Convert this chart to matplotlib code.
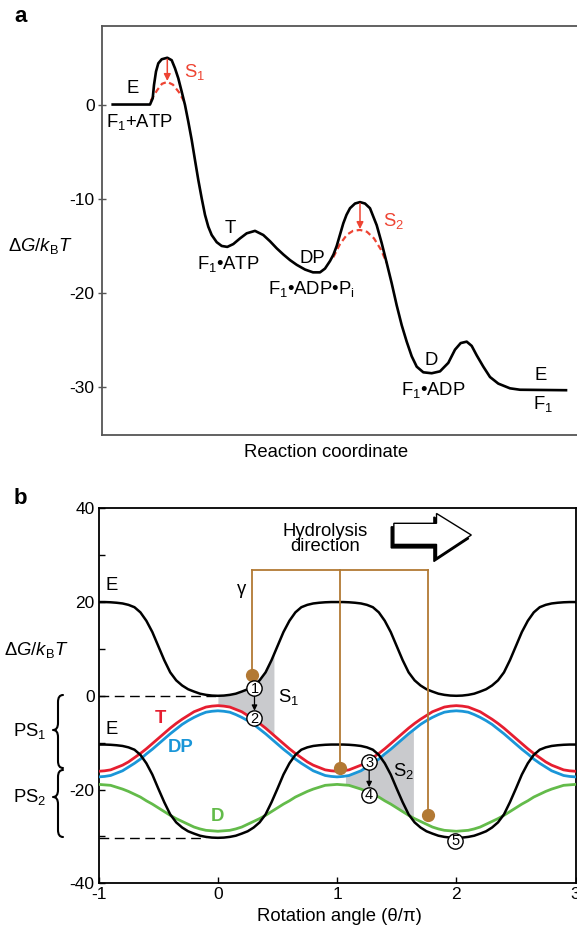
import numpy as np
import matplotlib
matplotlib.use("Agg")
import matplotlib.pyplot as plt
from matplotlib.patches import Polygon, PathPatch
from matplotlib.path import Path

plt.rcParams['font.family'] = ['Liberation Sans', 'DejaVu Sans']
plt.rcParams['mathtext.fontset'] = 'custom'
plt.rcParams['mathtext.rm'] = 'Liberation Sans'
plt.rcParams['mathtext.it'] = 'Liberation Sans:italic'
plt.rcParams['mathtext.bf'] = 'Liberation Sans:bold'
plt.rcParams['axes.unicode_minus'] = False

# ---------------- Panel a data ----------------
a_coord = [10.4, 47.7, 50.4, 51.7, 53.7, 56.0, 59.4, 65.0, 69.4, 72.7, 76.0, 79.4,
           82.7, 86.0, 89.4, 92.7, 96.0, 99.4, 102.7, 106.0, 109.4, 114.4, 119.4,
           125.0, 131.0, 137.7, 144.4, 152.7, 161.0, 167.7, 174.4, 181.0, 187.7,
           194.4, 202.7, 210.7, 217.7, 222.7, 227.7, 231.2, 234.4, 237.7, 241.0,
           244.2, 247.7, 252.7, 257.7, 262.7, 267.7, 274.4, 279.4, 284.4, 289.4,
           294.4, 299.4, 304.4, 309.4, 314.4, 321.0, 329.4, 337.7, 346.0, 352.7,
           358.4, 364.4, 369.4, 374.4, 381.0, 387.7, 396.0, 407.7, 417.7, 463.7]
a_energy = [0, 0, 0.66, 2.07, 3.5, 4.37, 4.8, 4.96, 4.7, 3.84, 2.78, 1.36,
            -0.05, -1.82, -3.76, -5.9, -8.0, -9.95, -11.7, -12.96, -13.84, -14.6, -15.0,
            -15.1, -14.8, -14.2, -13.66, -13.4, -13.84, -14.5, -15.25, -15.9, -16.5,
            -17.0, -17.5, -17.8, -17.8, -17.4, -16.6, -15.9, -15.0, -13.8, -12.6,
            -11.7, -11.0, -10.5, -10.35, -10.5, -11.0, -12.8, -14.7, -16.8, -18.96,
            -21.3, -23.4, -25.15, -26.7, -27.8, -28.4, -28.5, -28.3, -27.4, -26.0,
            -25.3, -25.15, -25.6, -26.6, -27.8, -28.9, -29.6, -30.1, -30.25, -30.3]
s1_coord = [48.4, 54.7, 59.7, 65.0, 70.7, 76.7, 82.7]
s1_energy = [0.4, 1.5, 2.2, 2.4, 2.1, 1.3, 0.15]
s2_coord = [231.0, 237.7, 244.7, 250.7, 257.7, 264.7, 271.7, 278.7, 284.4]
s2_energy = [-16.2, -14.8, -13.8, -13.4, -13.3, -13.5, -14.2, -15.4, -16.8]
a_yticks = [0, -10, -20, -30]

# ---------------- Panel b data ----------------
theta = np.linspace(-1, 3, 81)
E_upper = [20, 20, 19.95, 19.85, 19.7, 19.4, 18.9, 17.8, 16.0, 13.6, 10.6, 7.6, 5.0, 3.3, 2.2, 1.4, 0.9, 0.45, 0.2, 0.05, 0,
           0.05, 0.2, 0.45, 0.9, 1.4, 2.2, 3.3, 5.0, 7.6, 10.6, 13.6, 16.0, 17.8, 18.9, 19.4, 19.7, 19.85, 19.95, 20, 20,
           20, 19.95, 19.85, 19.7, 19.4, 18.9, 17.8, 16.0, 13.6, 10.6, 7.6, 5.0, 3.3, 2.2, 1.4, 0.9, 0.45, 0.2, 0.05, 0,
           0.05, 0.2, 0.45, 0.9, 1.4, 2.2, 3.3, 5.0, 7.6, 10.6, 13.6, 16.0, 17.8, 18.9, 19.4, 19.7, 19.85, 19.95, 20, 20]
E_lower = [-10.4, -10.4, -10.45, -10.55, -10.7, -11.0, -11.5, -12.6, -14.4, -16.8, -19.8, -22.7, -25.3, -27.0, -28.1, -28.9, -29.4, -29.85, -30.1, -30.25, -30.3,
           -30.25, -30.1, -29.85, -29.4, -28.9, -28.1, -27.0, -25.3, -22.7, -19.8, -16.8, -14.4, -12.6, -11.5, -11.0, -10.7, -10.55, -10.45, -10.4, -10.4,
           -10.4, -10.45, -10.55, -10.7, -11.0, -11.5, -12.6, -14.4, -16.8, -19.8, -22.7, -25.3, -27.0, -28.1, -28.9, -29.4, -29.85, -30.1, -30.25, -30.3,
           -30.25, -30.1, -29.85, -29.4, -28.9, -28.1, -27.0, -25.3, -22.7, -19.8, -16.8, -14.4, -12.6, -11.5, -11.0, -10.7, -10.55, -10.45, -10.4, -10.4]
T_curve = [-16.1, -16.0, -15.8, -15.3, -14.8, -14.1, -13.2, -12.3, -11.3, -10.2, -9.1, -8.0, -6.9, -5.9, -5.0, -4.2, -3.4, -2.9, -2.4, -2.2, -2.1,
           -2.2, -2.4, -2.9, -3.4, -4.2, -5.0, -5.9, -6.9, -8.0, -9.1, -10.2, -11.3, -12.3, -13.2, -14.1, -14.8, -15.3, -15.8, -16.0, -16.1,
           -16.0, -15.8, -15.3, -14.8, -14.1, -13.2, -12.3, -11.3, -10.2, -9.1, -8.0, -6.9, -5.9, -5.0, -4.2, -3.4, -2.9, -2.4, -2.2, -2.1,
           -2.2, -2.4, -2.9, -3.4, -4.2, -5.0, -5.9, -6.9, -8.0, -9.1, -10.2, -11.3, -12.3, -13.2, -14.1, -14.8, -15.3, -15.8, -16.0, -16.1]
DP_curve = [-17.3, -17.2, -17.0, -16.5, -16.0, -15.2, -14.4, -13.5, -12.4, -11.4, -10.3, -9.2, -8.1, -7.1, -6.1, -5.3, -4.6, -4.0, -3.5, -3.3, -3.2,
            -3.3, -3.5, -4.0, -4.6, -5.3, -6.1, -7.1, -8.1, -9.2, -10.3, -11.4, -12.4, -13.5, -14.4, -15.2, -16.0, -16.5, -17.0, -17.2, -17.3,
            -17.2, -17.0, -16.5, -16.0, -15.2, -14.4, -13.5, -12.4, -11.4, -10.3, -9.2, -8.1, -7.1, -6.1, -5.3, -4.6, -4.0, -3.5, -3.3, -3.2,
            -3.3, -3.5, -4.0, -4.6, -5.3, -6.1, -7.1, -8.1, -9.2, -10.3, -11.4, -12.4, -13.5, -14.4, -15.2, -16.0, -16.5, -17.0, -17.2, -17.3]
D_curve = [-18.9, -19.0, -19.1, -19.5, -19.9, -20.4, -21.0, -21.6, -22.4, -23.1, -23.9, -24.7, -25.5, -26.2, -26.8, -27.4, -28.0, -28.4, -28.7, -28.8, -28.9,
           -28.8, -28.7, -28.4, -28.0, -27.4, -26.8, -26.2, -25.5, -24.7, -23.9, -23.1, -22.4, -21.6, -21.0, -20.4, -19.9, -19.5, -19.1, -19.0, -18.9,
           -19.0, -19.1, -19.5, -19.9, -20.4, -21.0, -21.6, -22.4, -23.1, -23.9, -24.7, -25.5, -26.2, -26.8, -27.4, -28.0, -28.4, -28.7, -28.8, -28.9,
           -28.8, -28.7, -28.4, -28.0, -27.4, -26.8, -26.2, -25.5, -24.7, -23.9, -23.1, -22.4, -21.6, -21.0, -20.4, -19.9, -19.5, -19.1, -19.0, -18.9]
S1_range = [0.0, 0.47]
S2_range = [1.07, 1.64]
gamma_theta = [0.285, 1.022, 1.761]
gamma_energy = [4.5, -15.5, -25.4]
gamma_bar = 26.9
step_labels = ['1', '2', '3', '4', '5']
step_theta = [0.307, 0.307, 1.269, 1.269, 1.99]
step_energy = [1.6, -4.8, -14.1, -21.1, -30.9]
b_xticks = [-1, 0, 1, 2, 3]
b_yticks = [-40, -20, 0, 20, 40]
b_yminor = [-30, -10, 10, 30]

RED = '#e61e30'
BLUE = '#1a96d8'
GREEN = '#63bb4a'
AR = '#ee4433'
BROWN = '#b27934'
GRAY = '#c9cacd'
FS = 13.3
TFS = 12.5

W, H = 577, 930
fig = plt.figure(figsize=(W / 100, H / 100), dpi=100)


def fx(x):
    return x / W


def fy(y):
    return 1 - y / H


# ======================= Panel a =======================
axa = fig.add_axes([fx(102.3), fy(435), (580 - 102.3) / W, (435 - 25.7) / H])
axa.set_xlim(0, 477.7)
axa.set_ylim(-35.05, 8.36)
axa.plot(a_coord, a_energy, color='black', lw=1.9, solid_joinstyle='round', zorder=3)
axa.plot(s1_coord, s1_energy, color=AR, lw=1.6, dashes=(2.6, 1.6), zorder=2)
axa.plot(s2_coord, s2_energy, color=AR, lw=1.6, dashes=(2.6, 1.6), zorder=2)
for xc, y0, y1 in [(65.0, 4.8, 2.5), (257.7, -10.5, -13.2)]:
    axa.annotate('', xy=(xc, y1), xytext=(xc, y0),
                 arrowprops=dict(arrowstyle='-|>', color=AR, lw=1.1, mutation_scale=10,
                                 shrinkA=0, shrinkB=0), zorder=4)
axa.set_xticks([])
axa.set_yticks(a_yticks)
axa.tick_params(axis='y', direction='inout', length=6, width=1.0, labelsize=TFS, pad=2.5,
                color='#555555')
for s in axa.spines.values():
    s.set_color('#555555')
    s.set_linewidth(1.3)

a_txt = dict(fontsize=FS, ha='center', va='center')
axa.text(30.4, 1.7, 'E', **a_txt)
axa.text(37.3, -1.9, 'F$_1$+ATP', **a_txt)
axa.text(127.7, -13.1, 'T', **a_txt)
axa.text(125.7, -16.9, 'F$_1$•ATP', **a_txt)
axa.text(210.2, -16.3, 'DP', **a_txt)
axa.text(208.7, -19.6, 'F$_1$•ADP•P$_{\\rm i}$', **a_txt)
axa.text(329.0, -27.1, 'D', **a_txt)
axa.text(331.0, -30.3, 'F$_1$•ADP', **a_txt)
axa.text(438.5, -28.7, 'E', **a_txt)
axa.text(430.7, -31.8, 'F$_1$', fontsize=FS, ha='left', va='center')
axa.text(81.5, 3.4, 'S$_1$', fontsize=FS, ha='left', va='center', color=AR)
axa.text(280.4, -12.4, 'S$_2$', fontsize=FS, ha='left', va='center', color=AR)

fig.text(fx(326.5), fy(452), 'Reaction coordinate', fontsize=FS, ha='center', va='center')
fig.text(fx(8), fy(246), r'$\Delta G/k_{\rm B}T$', fontsize=FS, ha='left', va='center')
fig.text(fx(14), fy(17), 'a', fontsize=16, fontweight='bold', ha='left', va='center')

# ======================= Panel b =======================
axb = fig.add_axes([fx(98.7), fy(883.3), (575.5 - 98.7) / W, (883.3 - 508.3) / H])
axb.set_xlim(-1, 3)
axb.set_ylim(-40, 40)

s1 = np.linspace(S1_range[0], S1_range[1], 80)
axb.fill_between(s1, np.interp(s1, theta, E_upper), np.interp(s1, theta, T_curve),
                 color=GRAY, lw=0, zorder=1)
s2 = np.linspace(S2_range[0], S2_range[1], 80)
axb.fill_between(s2, np.interp(s2, theta, DP_curve), np.interp(s2, theta, D_curve),
                 color=GRAY, lw=0, zorder=1)

axb.plot([-1, -0.02], [0, 0], color='black', lw=1.0, dashes=(7, 4), zorder=2)
axb.plot([-1, -0.1], [-30.3, -30.3], color='black', lw=1.0, dashes=(7, 4), zorder=2)

axb.plot(theta, D_curve, color=GREEN, lw=2.0, zorder=3)
axb.plot(theta, DP_curve, color=BLUE, lw=2.0, zorder=3)
axb.plot(theta, T_curve, color=RED, lw=2.0, zorder=3)
axb.plot(theta, E_upper, color='black', lw=1.8, zorder=4)
axb.plot(theta, E_lower, color='black', lw=1.8, zorder=4)

# gamma shaft
axb.plot([gamma_theta[0], gamma_theta[-1]], [gamma_bar, gamma_bar], color=BROWN, lw=1.3,
         zorder=5, solid_capstyle='projecting')
for gt, ge in zip(gamma_theta, gamma_energy):
    axb.plot([gt, gt], [gamma_bar, ge], color=BROWN, lw=1.3, zorder=5)
axb.plot(gamma_theta, gamma_energy, 'o', color=BROWN, ms=8.5, zorder=6)

# numbered steps
for lab, st, se in zip(step_labels, step_theta, step_energy):
    axb.plot([st], [se], 'o', ms=11, mfc='white', mec='black', mew=1.0, zorder=8)
    axb.text(st, se - 0.15, lab, fontsize=10.5, ha='center', va='center', zorder=9)
for (st, y0, y1) in [(step_theta[0], step_energy[0] - 1.6, step_energy[1] + 1.6),
                     (step_theta[2], step_energy[2] - 1.6, step_energy[3] + 1.6)]:
    axb.annotate('', xy=(st, y1), xytext=(st, y0),
                 arrowprops=dict(arrowstyle='-|>', color='black', lw=0.9, mutation_scale=8,
                                 shrinkA=0, shrinkB=0), zorder=7)

# hydrolysis arrow
arrow_pts = np.array([(1.476, 36.8), (1.834, 36.8), (1.834, 38.9), (2.126, 34.3),
                      (1.834, 29.4), (1.834, 32.3), (1.476, 32.3)])
shadow = Polygon(arrow_pts + np.array([-0.022, -0.75]), closed=True, fc='black', ec='black',
                 lw=1.0, zorder=6)
front = Polygon(arrow_pts, closed=True, fc='white', ec='black', lw=1.0, zorder=7)
axb.add_patch(shadow)
axb.add_patch(front)
axb.text(0.90, 33.5, 'Hydrolysis\ndirection', fontsize=FS, ha='center', va='center',
         linespacing=0.88)

# labels inside panel b
axb.text(-0.895, 23.6, 'E', fontsize=FS, ha='center', va='center')
axb.text(-0.89, -7.2, 'E', fontsize=FS, ha='center', va='center')
axb.text(-0.485, -4.9, 'T', fontsize=FS, ha='center', va='center', color=RED, fontweight='bold')
axb.text(-0.31, -11.0, 'DP', fontsize=FS, ha='center', va='center', color=BLUE, fontweight='bold')
axb.text(0.0, -25.7, 'D', fontsize=FS, ha='center', va='center', color=GREEN, fontweight='bold')
axb.text(0.20, 22.6, 'γ', fontsize=FS, ha='center', va='center')
axb.text(0.507, -0.2, 'S$_1$', fontsize=FS, ha='left', va='center')
axb.text(1.465, -16.1, 'S$_2$', fontsize=FS, ha='left', va='center')

axb.set_xticks(b_xticks)
axb.set_xticklabels([str(v) for v in b_xticks])
axb.set_yticks(b_yticks)
axb.set_yticks(b_yminor, minor=True)
axb.tick_params(axis='both', which='both', direction='in', width=1.0, labelsize=TFS)
axb.tick_params(axis='both', which='major', length=4)
axb.tick_params(axis='y', which='minor', length=4)
axb.tick_params(axis='y', pad=3)
axb.tick_params(axis='x', pad=3)
for s in axb.spines.values():
    s.set_color('black')
    s.set_linewidth(1.3)

fig.text(fx(339.5), fy(916), 'Rotation angle (θ/π)', fontsize=FS, ha='center', va='center')
fig.text(fx(4), fy(650), r'$\Delta G/k_{\rm B}T$', fontsize=FS, ha='left', va='center')
fig.text(fx(14), fy(498), 'b', fontsize=16, fontweight='bold', ha='left', va='center')
fig.text(fx(13), fy(731), 'PS$_1$', fontsize=FS, ha='left', va='center')
fig.text(fx(13), fy(797), 'PS$_2$', fontsize=FS, ha='left', va='center')


def brace(xr, ytop, ybot, ytip, w=10.0, r=7.0):
    xm = xr - w / 2
    xt = xr - w
    pts = [(xr, ytop), (xm, ytop), (xm, ytop + r),
           (xm, ytip - r), (xm, ytip), (xt, ytip),
           (xm, ytip), (xm, ytip + r),
           (xm, ybot - r), (xm, ybot), (xr, ybot)]
    codes = [Path.MOVETO, Path.CURVE3, Path.CURVE3, Path.LINETO, Path.CURVE3, Path.CURVE3,
             Path.CURVE3, Path.CURVE3, Path.LINETO, Path.CURVE3, Path.CURVE3]
    path = Path([(fx(px), fy(py)) for px, py in pts], codes)
    fig.add_artist(PathPatch(path, fill=False, lw=1.5, ec='black', transform=fig.transFigure,
                             capstyle='round', joinstyle='round'))


brace(63, 695, 768, 730)
brace(63, 770, 837, 797)

fig.savefig('out.png', dpi=100)
